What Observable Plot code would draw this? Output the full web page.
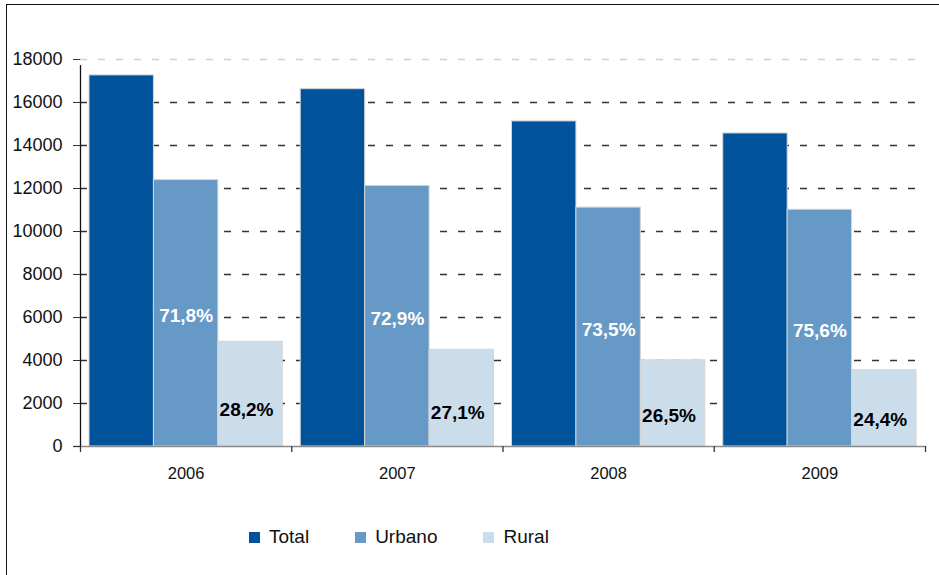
<!DOCTYPE html>
<html>
<head>
<meta charset="utf-8">
<script src="https://cdn.jsdelivr.net/npm/d3@7"></script>
<script src="https://cdn.jsdelivr.net/npm/@observablehq/plot@0.6"></script>
<style>
  html, body { margin: 0; padding: 0; background: #fff; }
  body { width: 939px; height: 575px; position: relative; overflow: hidden; font-family: "Liberation Sans", Arial, sans-serif; }
  #frame { position: absolute; left: 6px; top: 4px; width: 940px; height: 580px; border-top: 1.6px solid #111; border-left: 1.6px solid #111; box-sizing: border-box; }
  #chart { position: absolute; left: 0; top: 0; }
  #legend { position: absolute; left: 249px; top: 526px; display: flex; align-items: center; font-size: 19px; color: #111; }
  .item { display: flex; align-items: center; margin-right: 46px; }
  .sw { width: 11px; height: 11px; margin-right: 9px; }
</style>
</head>
<body>
<div id="frame"></div>
<div id="chart"></div>
<div id="legend"></div>
<script>
const years = ["2006", "2007", "2008", "2009"];
const series = ["Total", "Urbano", "Rural"];
const total = [17260, 16620, 15120, 14560];
const urbano = [12390, 12120, 11110, 11010];
const rural = [4870, 4500, 4010, 3550];
const urbanoPct = ["71,8%", "72,9%", "73,5%", "75,6%"];
const ruralPct = ["28,2%", "27,1%", "26,5%", "24,4%"];
const yTicks = [0, 2000, 4000, 6000, 8000, 10000, 12000, 14000, 16000, 18000];

const colors = {Total: "#00539b", Urbano: "#6699c6", Rural: "#cbdcea"};
const pad = 0.0426;
const w = (1 - 2 * pad) / 3;

const valuesBySeries = {Total: total, Urbano: urbano, Rural: rural};
const rows = [];
years.forEach((year, i) => {
  series.forEach((s, j) => {
    rows.push({i, j, year, series: s, value: valuesBySeries[s][i]});
  });
});
const urbanoLabels = years.map((year, i) => ({i, value: urbano[i], label: urbanoPct[i]}));
const ruralLabels = years.map((year, i) => ({i, value: rural[i], label: ruralPct[i]}));

const plot = Plot.plot({
  width: 939,
  height: 500,
  marginLeft: 80,
  marginRight: 14,
  marginTop: 59,
  marginBottom: 54,
  style: {fontFamily: "'Liberation Sans', Arial, sans-serif", background: "transparent", color: "#111"},
  x: {domain: [0, years.length], axis: null, label: null},
  y: {domain: [0, 18000], axis: null, label: null},
  color: {domain: series, range: series.map(s => colors[s])},
  marks: [
    Plot.ruleY(yTicks.filter(v => v > 0 && v < 18000), {stroke: "#333", strokeWidth: 1.3, strokeDasharray: "7,11"}),
    Plot.ruleY([18000], {stroke: "#cfcfcf", strokeWidth: 1.3, strokeDasharray: "7,11"}),
    Plot.rectY(rows, {
      x1: d => d.i + pad + d.j * w,
      x2: d => d.i + pad + (d.j + 1) * w,
      y1: 0,
      y2: "value",
      fill: "series",
      stroke: "#d4d4d4",
      strokeWidth: 1
    }),
    Plot.ruleY([0], {stroke: "#8a8a8a", strokeWidth: 1.5, insetLeft: -7}),
    Plot.ruleX([0], {y1: 0, y2: 18000, stroke: "#111", strokeWidth: 1.3, insetBottom: -6}),
    Plot.axisY({ticks: yTicks, tickSize: 7, tickPadding: 11, fontSize: 18, stroke: "#333", label: null, tickFormat: d => String(d)}),
    Plot.axisX({ticks: [0, 1, 2, 3, 4], tickSize: 6, tickFormat: () => "", stroke: "#333", strokeWidth: 1.3, label: null}),
    Plot.axisX({ticks: years.map((y, i) => i + 0.5), tickSize: 0, tickPadding: 21, fontSize: 16.5, label: null, tickFormat: d => years[Math.round(d - 0.5)]}),
    Plot.text(urbanoLabels, {
      x: d => d.i + pad + 1.5 * w,
      y: d => d.value / 2,
      text: "label",
      fill: "#fff",
      fontSize: 19,
      fontWeight: "bold",
      dy: 3
    }),
    Plot.text(ruralLabels, {
      x: d => d.i + pad + 2.5 * w,
      y: d => d.value * 0.35,
      text: "label",
      fill: "#000",
      fontSize: 19,
      fontWeight: "bold",
      dx: -4
    })
  ]
});
document.getElementById("chart").appendChild(plot);

const legend = document.getElementById("legend");
series.forEach(s => {
  const item = document.createElement("div");
  item.className = "item";
  const sw = document.createElement("div");
  sw.className = "sw";
  sw.style.background = colors[s];
  const label = document.createElement("span");
  label.textContent = s;
  item.appendChild(sw);
  item.appendChild(label);
  legend.appendChild(item);
});
</script>
</body>
</html>
